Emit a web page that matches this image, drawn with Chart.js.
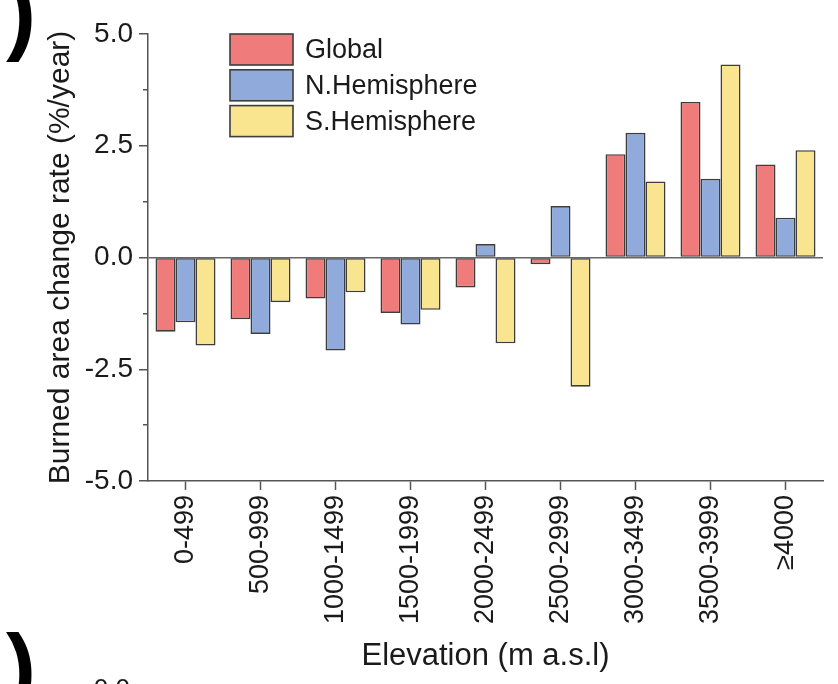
<!DOCTYPE html>
<html>
<head>
<meta charset="utf-8">
<script src="https://cdn.jsdelivr.net/npm/chart.js@4.4.1/dist/chart.umd.min.js"></script>
<style>
  html, body { margin: 0; padding: 0; background: #ffffff; }
  canvas { display: block; }
</style>
</head>
<body>
<canvas id="c" width="838" height="684"></canvas>
<script>
// ---- data ----
const categories = ['0-499', '500-999', '1000-1499', '1500-1999', '2000-2499', '2500-2999', '3000-3499', '3500-3999', '\u22654000'];
const seriesNames = ['Global', 'N.Hemisphere', 'S.Hemisphere'];
const globalValues = [-1.66, -1.38, -0.92, -1.24, -0.67, -0.15, 2.31, 3.48, 2.08];
const northValues  = [-1.45, -1.71, -2.08, -1.50, 0.30, 1.15, 2.79, 1.76, 0.89];
const southValues  = [-1.97, -1.00, -0.78, -1.17, -1.92, -2.89, 1.70, 4.32, 2.40];
const yMajorTicks = [-5.0, -2.5, 0.0, 2.5, 5.0];
const yTickLabels = ['-5.0', '-2.5', '0.0', '2.5', '5.0'];
const xTitle = 'Elevation (m a.s.l)';
const yTitle = 'Burned area change rate (%/year)';

const FONT = "'Liberation Sans', Arial, Helvetica, sans-serif";
const TEXT = '#1a1a1a';
const AXIS = '#555555';
Chart.defaults.font.family = FONT;
Chart.defaults.color = TEXT;

function majorIndex(v) {
  for (let i = 0; i < yMajorTicks.length; i++) {
    if (Math.abs(yMajorTicks[i] - v) < 1e-6) return i;
  }
  return -1;
}

const legendAndMarks = {
  id: 'legendAndMarks',
  afterDraw(chart) {
    const ctx = chart.ctx;
    const ca = chart.chartArea;
    ctx.save();
    // legend (inside plot area, top-left)
    const bx = ca.left + 82, bw = 63, bh = 31, step = 35.8;
    ctx.font = '27px ' + FONT;
    ctx.textAlign = 'left';
    ctx.textBaseline = 'middle';
    chart.data.datasets.forEach((ds, i) => {
      const by = ca.top + i * step;
      ctx.fillStyle = ds.backgroundColor;
      ctx.fillRect(bx, by, bw, bh);
      ctx.strokeStyle = ds.borderColor;
      ctx.lineWidth = 1.6;
      ctx.strokeRect(bx, by, bw, bh);
      ctx.fillStyle = TEXT;
      ctx.fillText(ds.label, bx + 75, by + bh / 2 + 1);
    });
    // cropped panel marks from the neighbouring panels
    ctx.fillStyle = '#000000';
    ctx.font = 'bold 90px ' + FONT;
    ctx.textBaseline = 'alphabetic';
    ctx.fillText(')', 6, 43);
    ctx.fillText(')', 6, 698);
    ctx.fillStyle = TEXT;
    ctx.font = '26px ' + FONT;
    ctx.textAlign = 'right';
    ctx.fillText('0.0', 130, 697);
    ctx.restore();
  }
};

new Chart(document.getElementById('c'), {
  type: 'bar',
  data: {
    labels: categories,
    datasets: [
      { label: seriesNames[0], data: globalValues, backgroundColor: '#EF7C7A', borderColor: '#3d3d3d' },
      { label: seriesNames[1], data: northValues,  backgroundColor: '#8FAADB', borderColor: '#3d3d3d' },
      { label: seriesNames[2], data: southValues,  backgroundColor: '#F9E490', borderColor: '#3d3d3d' }
    ]
  },
  options: {
    responsive: false,
    devicePixelRatio: 1,
    animation: false,
    layout: { padding: { top: 34, right: 15, bottom: 0, left: 40 } },
    datasets: {
      bar: { borderWidth: 1.6, borderSkipped: false, categoryPercentage: 0.8, barPercentage: 1.0 }
    },
    plugins: {
      legend: { display: false },
      tooltip: { enabled: false }
    },
    scales: {
      x: {
        type: 'category',
        grid: { drawOnChartArea: false, offset: false, tickLength: 9, tickColor: AXIS, tickWidth: 1.5 },
        border: { color: AXIS, width: 1.5 },
        ticks: { maxRotation: 90, minRotation: 90, autoSkip: false, padding: 5, color: TEXT, font: { size: 27 } },
        title: { display: true, text: xTitle, color: TEXT, font: { size: 31 }, padding: { top: 0, bottom: 9 } },
        afterFit(scale) { scale.height = 203; }
      },
      y: {
        min: -5, max: 5,
        grid: {
          color: (c) => (c.tick && Math.abs(c.tick.value) < 1e-6) ? '#666666' : 'rgba(0,0,0,0)',
          lineWidth: 1.5,
          tickLength: 9,
          tickColor: AXIS,
          tickWidth: 1.5,
          tickBorderDash: (c) => (c.tick && majorIndex(c.tick.value) >= 0) ? [] : [0, 4, 5, 100]
        },
        border: { color: AXIS, width: 1.5 },
        ticks: {
          stepSize: 1.25,
          padding: 6,
          color: TEXT,
          font: { size: 28 },
          callback: (v) => { const i = majorIndex(v); return i >= 0 ? yTickLabels[i] : ''; }
        },
        title: { display: true, text: yTitle, color: TEXT, font: { size: 30 }, padding: { top: 3, bottom: 0 } },
        afterFit(scale) { scale.width = 108; }
      }
    }
  },
  plugins: [legendAndMarks]
});
</script>
</body>
</html>
